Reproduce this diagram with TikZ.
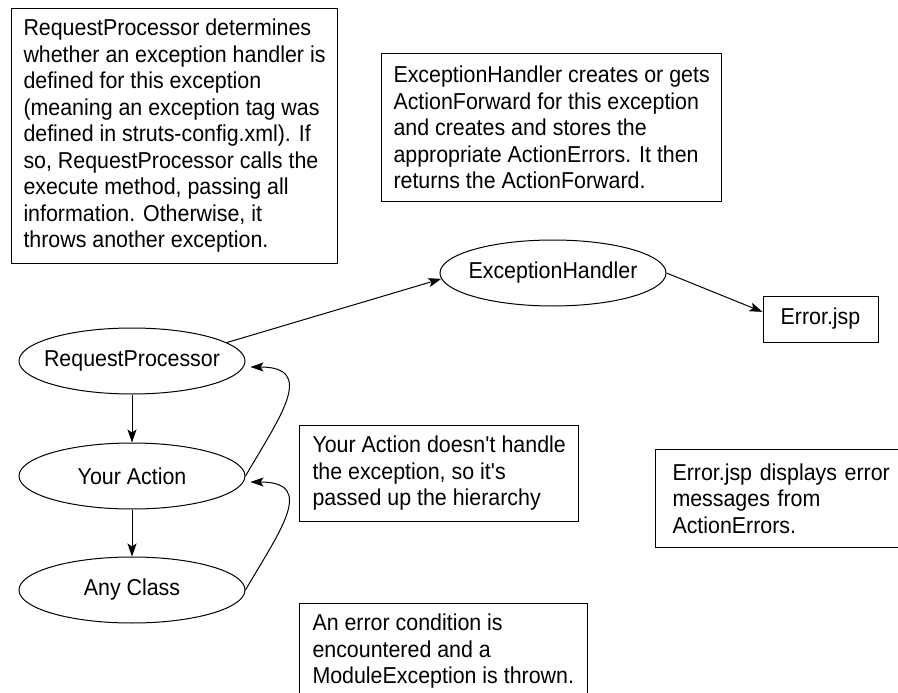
\documentclass[tikz,border=0pt]{standalone}
\usepackage{fontspec}
\setmainfont{Liberation Sans}[FakeStretch=0.93]
\usetikzlibrary{shapes,arrows.meta,positioning,calc}
\newcommand{\ovaltext}[1]{\makebox[0pt]{#1}}

\begin{document}
\begin{tikzpicture}[
    x=1pt, y=-1pt,
    every node/.style={font=\fontsize{23}{26.5}\selectfont},
    note/.style={rectangle, draw, line width=1pt, align=left, anchor=north west, inner xsep=12pt, inner ysep=0pt},
    proc/.style={ellipse, draw, line width=1pt, minimum width=226pt, minimum height=66pt, inner sep=0pt},
    page/.style={rectangle, draw, line width=1pt, minimum width=115pt, minimum height=46pt},
    flow/.style={-{Stealth[length=13pt,width=9pt,inset=3pt]}, line width=1pt}
  ]

  \useasboundingbox (0,0) rectangle (898,693);
  \clip (0,0) rectangle (898,693);

  % Notes
  \node[note, minimum height=255pt] (rpnote) at (11,8) {RequestProcessor determines\\ whether an exception handler is\\ defined for this exception\\ (meaning an exception tag was\\ defined in struts-config.xml). If\\ so, RequestProcessor calls the\\ execute method, passing all\\ information. Otherwise, it\\ throws another exception.};
  \node[note, minimum height=148pt] (ehnote) at (381,53) {ExceptionHandler creates or gets\\ ActionForward for this exception\\ and creates and stores the\\ appropriate ActionErrors. It then\\ returns the ActionForward.};
  \node[note, minimum height=96pt, inner xsep=13pt] (yanote) at (299,425) {Your Action doesn\textquotesingle t handle\\ the exception, so it\textquotesingle s\\ passed up the hierarchy};
  \node[note, minimum height=98pt, inner xsep=17pt, text width=243pt] (errnote) at (655,449) {Error.jsp displays error\\ messages from\\ ActionErrors.};
  \node[note, minimum height=96pt, inner xsep=13pt] (acnote) at (299,603) {An error condition is\\ encountered and a\\ ModuleException is thrown.};

  % Participants
  \node[proc] (rp) at (132,361) {\ovaltext{RequestProcessor}};
  \node[proc] (ya) at (132,476) {\ovaltext{Your Action}};
  \node[proc] (ac) at (132,590) {\ovaltext{Any Class}};
  \node[proc] (eh) at (553,273) {\ovaltext{ExceptionHandler}};
  \node[page] (err) at (820.5,319) {Error.jsp};

  % Calls
  \draw[flow] (rp) -- (ya);
  \draw[flow] (ya) -- (ac);
  \draw[flow] (rp.11) -- (eh.183);
  \draw[flow] (eh.east) -- (err.173);

  % Passed up
  \draw[flow] (ya.east) .. controls +(35,-60) and +(66,0) .. ([shift={(5pt,-6pt)}]rp.east);
  \draw[flow] (ac.east) .. controls +(35,-60) and +(66,0) .. ([shift={(5pt,-6pt)}]ya.east);

\end{tikzpicture}
\end{document}
